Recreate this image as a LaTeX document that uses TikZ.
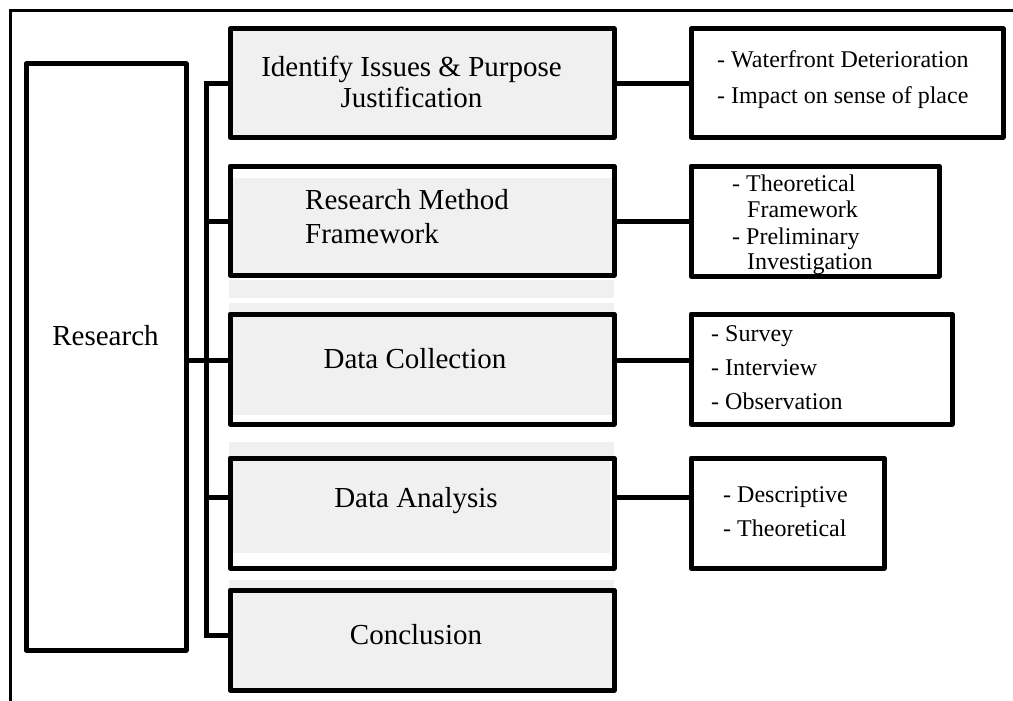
\documentclass[tikz,border=0pt]{standalone}
\usepackage{fontspec}
\setmainfont{Liberation Serif}
\definecolor{boxgray}{RGB}{240,240,240}
\begin{document}
\begin{tikzpicture}[x=1pt,y=-1pt,
  box/.style={draw, line width=5pt, line join=round, inner sep=0pt, outer sep=0pt},
  conn/.style={line width=5pt, line join=miter},
  strip/.style={fill=boxgray, draw=none},
  midtxt/.style={font=\fontsize{29}{30}\selectfont, inner sep=0pt, anchor=base},
  midl/.style={font=\fontsize{29}{30}\selectfont, inner sep=0pt, anchor=base west},
  listtxt/.style={font=\fontsize{24}{26}\selectfont, inner sep=0pt, anchor=base west}]
\useasboundingbox (0,0) rectangle (1013,701);
% outer frame
\draw[line width=2.4pt] (10.5,701) -- (10.5,10.5) -- (1013,10.5);
% grey fills and strips
\fill[boxgray] (230,29) rectangle (614,137);
\fill[boxgray] (232,178) rectangle (612,273);
\fill[boxgray] (232,316) rectangle (612,415);
\fill[boxgray] (232,460) rectangle (610,553);
\fill[boxgray] (230,590) rectangle (614,690);
\path[strip] (229,280) rectangle (614,298);
\path[strip] (229,303) rectangle (614,312);
\path[strip] (229,442) rectangle (614,456);
\path[strip] (229,580) rectangle (614,588);
% boxes
\node[box, minimum width=160pt, minimum height=586pt] (b0) at (106,357) {};
\node[box, minimum width=384pt, minimum height=108pt] (b1) at (422,83) {};
\node[box, minimum width=384pt, minimum height=109pt] (b2) at (422,220.5) {};
\node[box, minimum width=384pt, minimum height=110pt] (b3) at (422,369) {};
\node[box, minimum width=384pt, minimum height=110pt] (b4) at (422,513) {};
\node[box, minimum width=384pt, minimum height=100pt] (b5) at (422,640) {};
\node[box, minimum width=312pt, minimum height=108pt] (r1) at (847,83) {};
\node[box, minimum width=248pt, minimum height=110pt] (r2) at (815,221) {};
\node[box, minimum width=261pt, minimum height=110pt] (r3) at (821.5,369) {};
\node[box, minimum width=193pt, minimum height=110pt] (r4) at (787.5,513) {};
% connector levels
\coordinate (tk) at (206,0);
\coordinate (y1) at (0,84);
\coordinate (y2) at (0,221);
\coordinate (y3) at (0,360);
\coordinate (y4) at (0,497);
\coordinate (y5) at (0,635);
\draw[conn] (b1.west |- y1) -- (tk |- y1) -- (tk |- y5) -- (b5.west |- y5);
\draw[conn] (tk |- y2) -- (b2.west |- y2);
\draw[conn] (tk |- y4) -- (b4.west |- y4);
\draw[conn] (b0.east |- y3) -- (b3.west |- y3);
\draw[conn] (b1.east |- y1) -- (r1.west |- y1);
\draw[conn] (b2.east |- y2) -- (r2.west |- y2);
\draw[conn] (b3.east |- y3) -- (r3.west |- y3);
\draw[conn] (b4.east |- y4) -- (r4.west |- y4);
% texts
\node[midtxt] (t0) at (105.5,345) {Research};
\node[midtxt] (t1a) at (411.5,77) {Identify Issues \& Purpose};
\node[midtxt] (t1b) at (411.5,107) {Justification};
\node[midl] (t2a) at (305,209) {Research Method};
\node[midl] (t2b) at (305,243) {Framework};
\node[midtxt] (t3) at (415,368) {Data Collection};
\node[midtxt] (t4) at (416,507) {Data Analysis};
\node[midtxt] (t5) at (416,644) {Conclusion};
\node[listtxt] (s1a) at (717,68) {- Waterfront Deterioration};
\node[listtxt] (s1b) at (717,103) {- Impact on sense of place};
\node[listtxt] (s2a) at (732,191) {- Theoretical};
\node[listtxt] (s2b) at (747,217) {Framework};
\node[listtxt] (s2c) at (732,244) {- Preliminary};
\node[listtxt] (s2d) at (747,269) {Investigation};
\node[listtxt] (s3a) at (711,341) {- Survey};
\node[listtxt] (s3b) at (711,375) {- Interview};
\node[listtxt] (s3c) at (711,409) {- Observation};
\node[listtxt] (s4a) at (723,502) {- Descriptive};
\node[listtxt] (s4b) at (723,536) {- Theoretical};
\end{tikzpicture}
\end{document}
